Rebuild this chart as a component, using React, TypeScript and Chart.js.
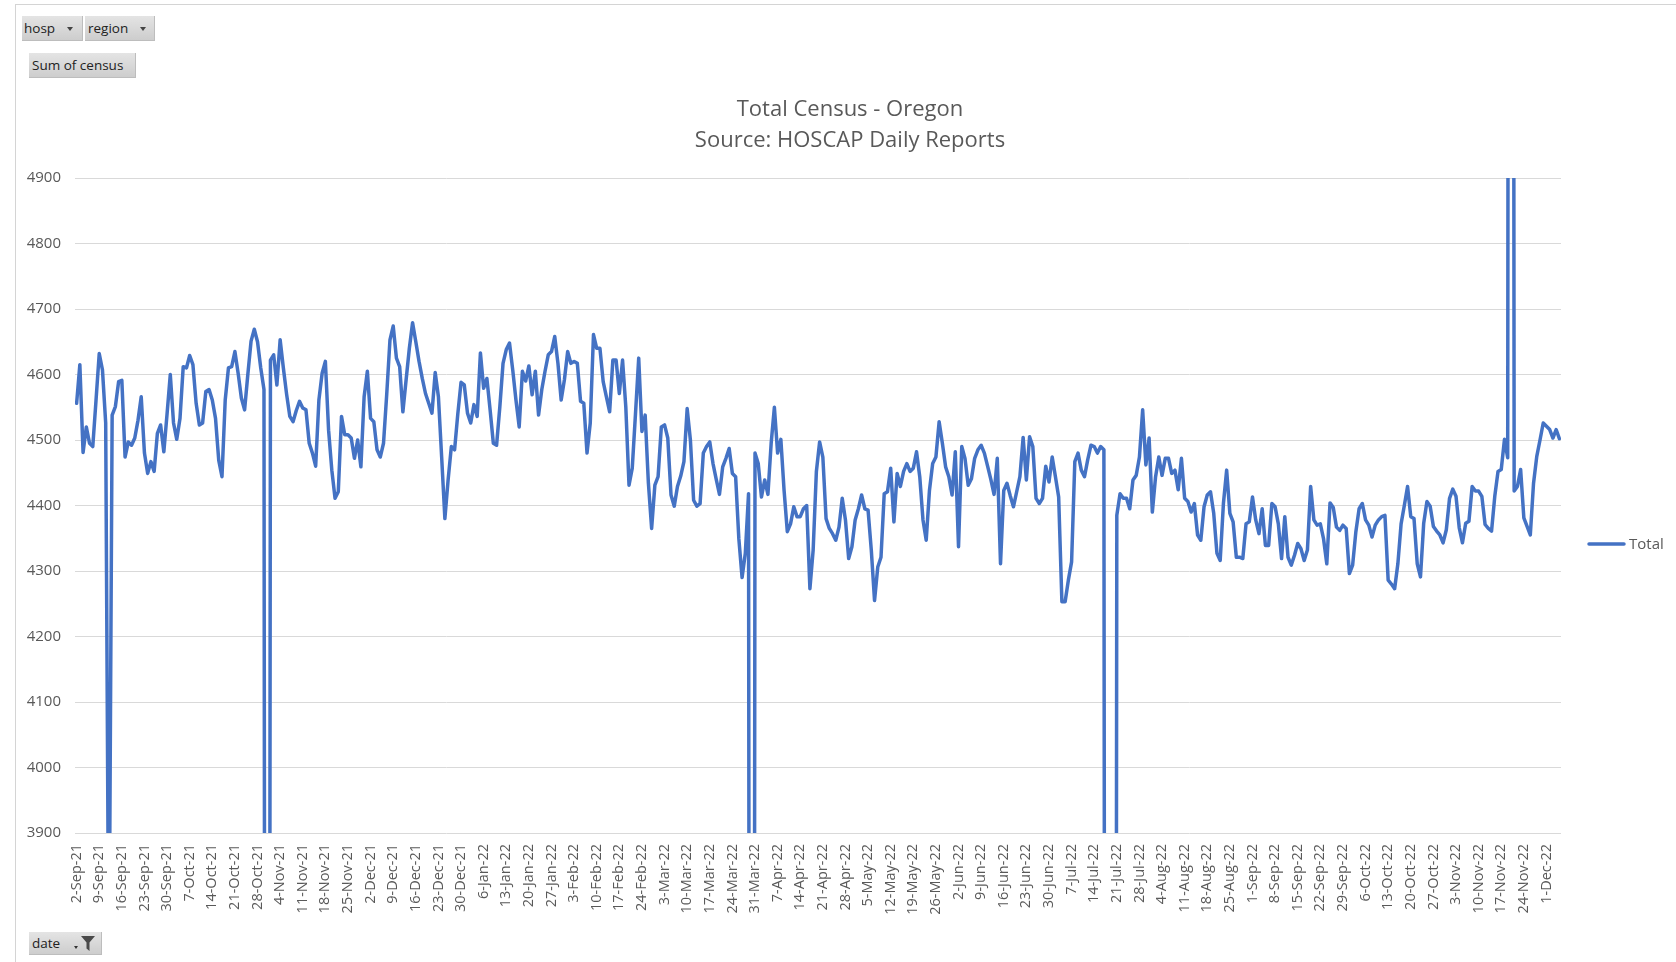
import React, { useEffect, useRef } from 'react';
import { Chart, registerables } from 'chart.js';

Chart.register(...registerables);

// ---- Data ----
const SERIES_NAME = 'Total';
const TITLE_LINES = ['Total Census - Oregon', 'Source: HOSCAP Daily Reports'];
const FILTER_BUTTONS = ['hosp', 'region'];
const VALUE_BUTTON = 'Sum of census';
const AXIS_BUTTON = 'date';

// first day shown is 2-Sep-21, one point per day; a tick label every 7 days
const TICK_LABELS = [
  '2-Sep-21', '9-Sep-21', '16-Sep-21', '23-Sep-21', '30-Sep-21',
  '7-Oct-21', '14-Oct-21', '21-Oct-21', '28-Oct-21',
  '4-Nov-21', '11-Nov-21', '18-Nov-21', '25-Nov-21',
  '2-Dec-21', '9-Dec-21', '16-Dec-21', '23-Dec-21', '30-Dec-21',
  '6-Jan-22', '13-Jan-22', '20-Jan-22', '27-Jan-22',
  '3-Feb-22', '10-Feb-22', '17-Feb-22', '24-Feb-22',
  '3-Mar-22', '10-Mar-22', '17-Mar-22', '24-Mar-22', '31-Mar-22',
  '7-Apr-22', '14-Apr-22', '21-Apr-22', '28-Apr-22',
  '5-May-22', '12-May-22', '19-May-22', '26-May-22',
  '2-Jun-22', '9-Jun-22', '16-Jun-22', '23-Jun-22', '30-Jun-22',
  '7-Jul-22', '14-Jul-22', '21-Jul-22', '28-Jul-22',
  '4-Aug-22', '11-Aug-22', '18-Aug-22', '25-Aug-22',
  '1-Sep-22', '8-Sep-22', '15-Sep-22', '22-Sep-22', '29-Sep-22',
  '6-Oct-22', '13-Oct-22', '20-Oct-22', '27-Oct-22',
  '3-Nov-22', '10-Nov-22', '17-Nov-22', '24-Nov-22',
  '1-Dec-22',
];
const TICK_EVERY_DAYS = 7;

const CENSUS_2021 = [
  4556, 4615, 4481, 4520, 4495, 4490, 4560, 4632, 4607, 4526,
  3650, 4538, 4551, 4589, 4591, 4474, 4497, 4492, 4503, 4530,
  4566, 4480, 4449, 4467, 4452, 4510, 4523, 4482, 4540, 4600,
  4526, 4501, 4533, 4612, 4610, 4629, 4615, 4556, 4523, 4526,
  4574, 4577, 4561, 4533, 4469, 4444, 4561, 4610, 4612, 4635,
  4602, 4564, 4546, 4600, 4651, 4669, 4650, 4610, 4577, 0,
  4622, 4630, 4584, 4653, 4610, 4570, 4536, 4528, 4545, 4559,
  4549, 4546, 4495, 4480, 4460, 4561, 4602, 4620, 4515, 4454,
  4411, 4421, 4536, 4508, 4508, 4503, 4472, 4500, 4459, 4566,
  4605, 4533, 4528, 4485, 4474, 4495, 4570, 4653, 4674, 4625,
  4612, 4543, 4592, 4640, 4679, 4650, 4620, 4594, 4571, 4556,
  4541, 4603, 4566, 4474, 4380, 4439, 4490, 4485, 4540, 4588,
];
const CENSUS_2022_H1 = [
  4584, 4541, 4526, 4554, 4536, 4633, 4579, 4594, 4546, 4495,
  4492, 4550, 4617, 4638, 4648, 4607, 4561, 4520, 4605, 4590,
  4613, 4569, 4605, 4538, 4577, 4605, 4630, 4635, 4658, 4617,
  4561, 4592, 4635, 4617, 4620, 4617, 4559, 4556, 4480, 4526,
  4661, 4640, 4640, 4589, 4566, 4543, 4622, 4622, 4571, 4622,
  4551, 4431, 4457, 4540, 4625, 4513, 4538, 4434, 4365, 4431,
  4444, 4520, 4523, 4503, 4416, 4399, 4429, 4445, 4467, 4548,
  4500, 4408, 4399, 4403, 4480, 4490, 4497, 4464, 4440, 4417,
  4459, 4472, 4487, 4449, 4444, 4349, 4290, 4327, 4418, 0,
  4480, 4464, 4413, 4439, 4417, 4495, 4550, 4480, 4501, 4423,
  4360, 4372, 4398, 4383, 4383, 4395, 4400, 4273, 4332, 4452,
  4497, 4474, 4380, 4365, 4357, 4347, 4367, 4411, 4378, 4319,
  4337, 4378, 4395, 4416, 4395, 4393, 4332, 4255, 4306, 4321,
  4418, 4421, 4457, 4375, 4449, 4429, 4452, 4464, 4452, 4457,
  4482, 4444, 4378, 4347, 4423, 4464, 4474, 4528, 4495, 4459,
  4444, 4416, 4482, 4337, 4490, 4472, 4431, 4441, 4472, 4485,
  4492, 4480, 4460, 4440, 4417, 4472, 4311, 4423, 4434, 4415,
  4398, 4421, 4444, 4504, 4439, 4505, 4490, 4411, 4403, 4411,
];
const CENSUS_2022_H2 = [
  4460, 4436, 4474, 4444, 4413, 4253, 4253, 4286, 4314, 4467,
  4480, 4454, 4444, 4470, 4492, 4490, 4480, 4490, 4485, 0,
  0, 0, 4385, 4418, 4411, 4411, 4395, 4439, 4446, 4474,
  4546, 4462, 4503, 4390, 4444, 4474, 4446, 4472, 4472, 4449,
  4454, 4424, 4472, 4411, 4406, 4390, 4403, 4355, 4347, 4398,
  4416, 4421, 4388, 4327, 4316, 4403, 4454, 4388, 4375, 4321,
  4321, 4319, 4372, 4375, 4413, 4378, 4357, 4395, 4339, 4339,
  4403, 4398, 4372, 4319, 4383, 4321, 4309, 4324, 4342, 4334,
  4316, 4332, 4429, 4378, 4370, 4372, 4349, 4311, 4404, 4397,
  4367, 4362, 4370, 4365, 4296, 4309, 4360, 4395, 4403, 4378,
  4370, 4352, 4370, 4378, 4383, 4385, 4286, 4280, 4273, 4311,
  4372, 4400, 4429, 4383, 4380, 4311, 4291, 4373, 4406, 4399,
  4368, 4361, 4355, 4343, 4363, 4411, 4425, 4414, 4366, 4343,
  4373, 4376, 4429, 4422, 4422, 4414, 4371, 4365, 4361, 4414,
  4452, 4455, 4501, 4473, 9500, 4422, 4429, 4455, 4381, 4368,
  4355, 4434, 4475, 4500, 4526, 4521, 4516, 4503, 4516, 4502,
];
const TOTAL_CENSUS = [...CENSUS_2021, ...CENSUS_2022_H1, ...CENSUS_2022_H2];

const Y_MIN = 3900;
const Y_MAX = 4900;
const Y_STEP = 100;

// ---- Styles ----
const LINE_COLOR = '#4472C4';
const TEXT_COLOR = '#595959';
const GRID_COLOR = '#d9d9d9';
const FONT = '"Open Sans", sans-serif';

const overlayPlugin = {
  id: 'overlayText',
  afterDraw(chart: any) {
    const ctx = chart.ctx as CanvasRenderingContext2D;
    ctx.save();
    ctx.fillStyle = TEXT_COLOR;
    ctx.textAlign = 'center';
    ctx.textBaseline = 'middle';
    ctx.font = `22px ${FONT}`;
    ctx.fillText(TITLE_LINES[0], 850, 110);
    ctx.fillText(TITLE_LINES[1], 850, 141);
    // legend
    ctx.strokeStyle = LINE_COLOR;
    ctx.lineWidth = 3.5;
    ctx.lineCap = 'round';
    ctx.beginPath();
    ctx.moveTo(1589, 544);
    ctx.lineTo(1624, 544);
    ctx.stroke();
    ctx.textAlign = 'left';
    ctx.font = `15px ${FONT}`;
    ctx.fillText(SERIES_NAME, 1629, 545);
    ctx.restore();
  },
};

const btnBase: React.CSSProperties = {
  position: 'absolute',
  background: 'linear-gradient(#e4e4e4, #cdcdcd)',
  borderRight: '1px solid #bdbdbd',
  borderBottom: '1px solid #bdbdbd',
  boxSizing: 'border-box',
  fontFamily: FONT,
  fontSize: 13.5,
  color: '#222',
  display: 'flex',
  alignItems: 'center',
  whiteSpace: 'nowrap',
};

const Arrow = ({ left, top }: { left: number; top: number }) => (
  <div
    style={{
      position: 'absolute',
      left,
      top,
      width: 0,
      height: 0,
      borderLeft: '3.5px solid transparent',
      borderRight: '3.5px solid transparent',
      borderTop: '4px solid #444',
    }}
  />
);

export default function App() {
  const ref = useRef<HTMLCanvasElement>(null);

  useEffect(() => {
    const canvas = ref.current;
    if (!canvas) return;
    const chart = new Chart(canvas, {
      type: 'line',
      data: {
        datasets: [
          {
            label: SERIES_NAME,
            data: TOTAL_CENSUS.map((v, i) => ({ x: i, y: v })),
            borderColor: LINE_COLOR,
            backgroundColor: LINE_COLOR,
            borderWidth: 3.5,
            pointRadius: 0,
            tension: 0,
            fill: false,
            borderJoinStyle: 'round',
            borderCapStyle: 'round',
          } as any,
        ],
      },
      options: {
        animation: false,
        responsive: false,
        devicePixelRatio: 1,
        events: [],
        font: { family: FONT } as any,
        layout: { padding: { left: 0, right: 115, top: 178, bottom: 29 } },
        plugins: {
          legend: { display: false },
          title: { display: false },
          tooltip: { enabled: false },
        },
        scales: {
          x: {
            type: 'linear',
            min: -0.5,
            max: TOTAL_CENSUS.length - 0.5,
            afterBuildTicks: (s: any) => {
              s.ticks = TICK_LABELS.map((_, i) => ({ value: i * TICK_EVERY_DAYS }));
            },
            afterFit: (s: any) => {
              s.height = 100;
            },
            ticks: {
              autoSkip: false,
              minRotation: 90,
              maxRotation: 90,
              color: TEXT_COLOR,
              padding: 11,
              font: { family: FONT, size: 14.5 },
              callback: (v: any) => TICK_LABELS[Math.round(Number(v) / TICK_EVERY_DAYS)] ?? '',
            },
            grid: { display: false, drawTicks: false },
            border: { display: false },
          },
          y: {
            min: Y_MIN,
            max: Y_MAX,
            afterFit: (s: any) => {
              s.width = 75;
            },
            ticks: {
              stepSize: Y_STEP,
              color: TEXT_COLOR,
              padding: 14,
              font: { family: FONT, size: 15 },
              callback: (v: any) => String(v),
            },
            grid: { color: GRID_COLOR, lineWidth: 1, drawTicks: false },
            border: { display: false },
          },
        },
      },
      plugins: [overlayPlugin],
    } as any);
    return () => chart.destroy();
  }, []);

  return (
    <div
      style={{
        position: 'absolute',
        left: 0,
        top: 0,
        width: 1676,
        height: 962,
        overflow: 'hidden',
        background: '#fff',
      }}
    >
      <canvas
        ref={ref}
        width={1676}
        height={962}
        style={{ position: 'absolute', left: 0, top: 0, width: 1676, height: 962 }}
      />
      <div
        style={{
          position: 'absolute',
          left: 15,
          top: 4,
          width: 1676,
          height: 1000,
          borderLeft: '1px solid #d4d4d4',
          borderTop: '1px solid #d4d4d4',
          pointerEvents: 'none',
        }}
      />
      <div style={{ ...btnBase, left: 22, top: 16, width: 61, height: 25, paddingLeft: 2 }}>
        {FILTER_BUTTONS[0]}
        <Arrow left={45} top={11} />
      </div>
      <div style={{ ...btnBase, left: 85, top: 16, width: 70, height: 25, paddingLeft: 3 }}>
        {FILTER_BUTTONS[1]}
        <Arrow left={55} top={11} />
      </div>
      <div style={{ ...btnBase, left: 29, top: 53, width: 107, height: 25, paddingLeft: 3 }}>
        {VALUE_BUTTON}
      </div>
      <div style={{ ...btnBase, left: 29, top: 932, width: 73, height: 23, paddingLeft: 3 }}>
        {AXIS_BUTTON}
        <div
          style={{
            position: 'absolute',
            left: 45,
            top: 14,
            width: 0,
            height: 0,
            borderLeft: '2.5px solid transparent',
            borderRight: '2.5px solid transparent',
            borderTop: '3px solid #333',
          }}
        />
        <svg
          width="14"
          height="15"
          viewBox="0 0 14 15"
          style={{ position: 'absolute', left: 52, top: 4 }}
        >
          <polygon points="0,0 14,0 8.5,6.5 8.5,15 5.5,12.5 5.5,6.5" fill="#4a4a4a" />
        </svg>
      </div>
    </div>
  );
}
